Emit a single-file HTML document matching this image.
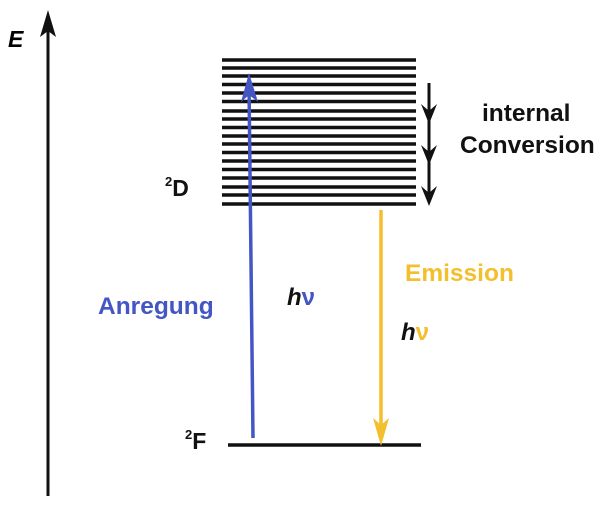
<!DOCTYPE html>
<html><head><style>
html,body{margin:0;padding:0;background:#fff;}
svg{display:block}
text{font-family:"Liberation Sans",Arial,sans-serif;font-weight:bold;}
</style></head><body>
<svg width="604" height="507" viewBox="0 0 604 507">
<line x1="48" y1="30" x2="48" y2="496" stroke="#111" stroke-width="3"/>
<polygon points="48,10 40,37 48,31 56,37" fill="#111"/>
<text x="8" y="47" font-size="23" font-style="italic">E</text>
<g stroke="#111" stroke-width="3.6">
<line x1="222" y1="60" x2="416" y2="60"/>
<line x1="222" y1="68" x2="416" y2="68"/>
<line x1="222" y1="76" x2="416" y2="76"/>
<line x1="222" y1="84.5" x2="416" y2="84.5"/>
<line x1="222" y1="93" x2="416" y2="93"/>
<line x1="222" y1="101.5" x2="416" y2="101.5"/>
<line x1="222" y1="111" x2="416" y2="111"/>
<line x1="222" y1="119" x2="416" y2="119"/>
<line x1="222" y1="127.5" x2="416" y2="127.5"/>
<line x1="222" y1="136" x2="416" y2="136"/>
<line x1="222" y1="144" x2="416" y2="144"/>
<line x1="222" y1="152.5" x2="416" y2="152.5"/>
<line x1="222" y1="161" x2="416" y2="161"/>
<line x1="222" y1="169.5" x2="416" y2="169.5"/>
<line x1="222" y1="178" x2="416" y2="178"/>
<line x1="222" y1="187" x2="416" y2="187"/>
<line x1="222" y1="195" x2="416" y2="195"/>
<line x1="222" y1="204" x2="416" y2="204"/>
<line x1="228" y1="445" x2="421" y2="445"/>
</g>
<line x1="429" y1="83" x2="429" y2="200" stroke="#111" stroke-width="3"/>
<polygon points="421,104 429,124 437,104 429,111" fill="#111"/>
<polygon points="421,145 429,165 437,145 429,152" fill="#111"/>
<polygon points="421,186 429,206 437,186 429,193" fill="#111"/>
<line x1="253" y1="438" x2="249" y2="85" stroke="#4455c4" stroke-width="3.5"/>
<polygon points="249,73 241,102 249,95 258,102" fill="#4455c4"/>
<line x1="381" y1="210" x2="381" y2="430" stroke="#f3bf2c" stroke-width="3.5"/>
<polygon points="381,446 373,418 381,425 389,418" fill="#f3bf2c"/>
<text x="482" y="121" font-size="24.5" fill="#111">internal</text>
<text x="460" y="153" font-size="24.5" fill="#111">Conversion</text>
<text x="405" y="281" font-size="24.5" fill="#f3bf2c">Emission</text>
<text x="98" y="314" font-size="24.5" fill="#4455c4">Anregung</text>
<text x="287" y="305" font-size="24" fill="#111"><tspan font-style="italic">h</tspan><tspan fill="#4455c4">ν</tspan></text>
<text x="401" y="340" font-size="24" fill="#111"><tspan font-style="italic">h</tspan><tspan fill="#f3bf2c">ν</tspan></text>
<text x="165" y="196" font-size="23" fill="#111"><tspan font-size="13" dy="-10">2</tspan><tspan dy="10">D</tspan></text>
<text x="185" y="449" font-size="23" fill="#111"><tspan font-size="13" dy="-10">2</tspan><tspan dy="10">F</tspan></text>
</svg>
</body></html>
